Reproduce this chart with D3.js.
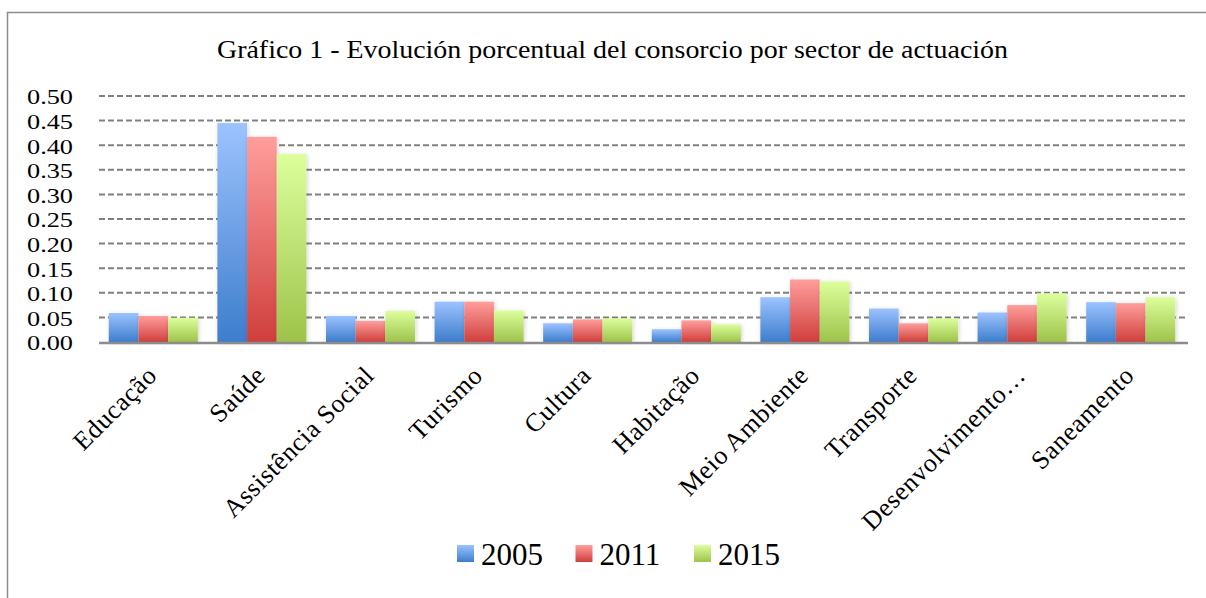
<!DOCTYPE html>
<html>
<head>
<meta charset="utf-8">
<script src="https://cdn.jsdelivr.net/npm/d3@7"></script>
<style>
  body { margin: 0; background: #fff; }
  svg { display: block; }
  text { font-family: "Liberation Serif", serif; fill: #000; }
</style>
</head>
<body>
<div id="chart"></div>
<script>
// values
const categories = ["Educação", "Saúde", "Assistência Social", "Turismo", "Cultura",
    "Habitação", "Meio Ambiente", "Transporte", "Desenvolvimento…", "Saneamento"];
const seriesNames = ["2005", "2011", "2015"];
const values2005 = [0.059, 0.445, 0.053, 0.082, 0.038, 0.026, 0.091, 0.068, 0.060, 0.081];
const values2011 = [0.053, 0.417, 0.043, 0.082, 0.046, 0.044, 0.127, 0.038, 0.075, 0.079];
const values2015 = [0.049, 0.382, 0.063, 0.064, 0.048, 0.036, 0.123, 0.048, 0.099, 0.091];
const yTicks = [0, 0.05, 0.1, 0.15, 0.2, 0.25, 0.3, 0.35, 0.4, 0.45, 0.5];
const title = "Gráfico 1 - Evolución porcentual del consorcio por sector de actuación";

const width = 1206, height = 598;
const seriesValues = [values2005, values2011, values2015];
// gradient top / bottom colours for each series
const topColors = ["#9cc3ff", "#ff9e9c", "#dcff9c"];
const bottomColors = ["#3d7dcc", "#cf3f3c", "#9ec34a"];

const svg = d3.select("#chart").append("svg")
    .attr("width", width)
    .attr("height", height);

const defs = svg.append("defs");
seriesNames.forEach((s, i) => {
    const g = defs.append("linearGradient")
        .attr("id", "grad" + i)
        .attr("x1", "0%").attr("y1", "0%")
        .attr("x2", "0%").attr("y2", "100%");
    g.append("stop").attr("offset", "0%").attr("stop-color", topColors[i]);
    g.append("stop").attr("offset", "100%").attr("stop-color", bottomColors[i]);
});
const shadow = defs.append("filter").attr("id", "shadow")
    .attr("x", "-20%").attr("y", "-10%").attr("width", "140%").attr("height", "120%");
shadow.append("feDropShadow")
    .attr("dx", 1).attr("dy", 1).attr("stdDeviation", 2)
    .attr("flood-color", "#000").attr("flood-opacity", 0.18);

// outer frame (runs off to the right and bottom)
svg.append("path")
    .attr("d", "M7.5,610 L7.5,12.5 L1220,12.5")
    .attr("fill", "none")
    .attr("stroke", "#8c8c8c")
    .attr("stroke-width", 1.5);

svg.append("text")
    .attr("x", 217)
    .attr("y", 58)
    .attr("font-size", 26)
    .attr("textLength", 791)
    .attr("lengthAdjust", "spacingAndGlyphs")
    .text(title);

const x = d3.scaleBand()
    .domain(categories)
    .range([99, 1185])
    .paddingInner(0.18)
    .paddingOuter(0.09);

const xs = d3.scaleBand()
    .domain(seriesNames)
    .range([0, x.bandwidth()]);

const y = d3.scaleLinear()
    .domain([0, 0.5])
    .range([342, 96]);

// dashed gridlines
svg.append("g")
    .selectAll("line")
    .data(yTicks.filter(d => d > 0))
    .join("line")
    .attr("x1", 99).attr("x2", 1185)
    .attr("y1", d => y(d)).attr("y2", d => y(d))
    .attr("stroke", "#808080")
    .attr("stroke-width", 2)
    .attr("stroke-dasharray", "6,3");

// y axis labels
const yAxis = svg.append("g")
    .attr("transform", "translate(73,0)")
    .call(d3.axisLeft(y).tickValues(yTicks).tickFormat(d3.format(".2f")).tickSize(0).tickPadding(0));
yAxis.select(".domain").remove();
yAxis.selectAll("text")
    .attr("font-family", "Liberation Serif, serif")
    .attr("font-size", 22)
    .attr("dy", "0.36em")
    .attr("textLength", 46)
    .attr("lengthAdjust", "spacingAndGlyphs");

// bars
const groups = svg.append("g")
    .selectAll("g")
    .data(categories)
    .join("g")
    .attr("transform", d => `translate(${x(d)},0)`);

groups.selectAll("rect")
    .data((d, ci) => seriesNames.map((s, si) => ({ s, si, v: seriesValues[si][ci] })))
    .join("rect")
    .attr("x", d => xs(d.s))
    .attr("y", d => y(d.v))
    .attr("width", xs.bandwidth())
    .attr("height", d => y(0) - y(d.v))
    .attr("fill", d => `url(#grad${d.si})`)
    .attr("filter", "url(#shadow)");

// baseline
svg.append("line")
    .attr("x1", 99).attr("x2", 1188)
    .attr("y1", y(0) + 1).attr("y2", y(0) + 1)
    .attr("stroke", "#8c8c8c")
    .attr("stroke-width", 2.5);

// rotated category labels
svg.append("g")
    .selectAll("text")
    .data(categories)
    .join("text")
    .attr("transform", d => `translate(${x(d) + x.bandwidth() / 2 + 5},377) rotate(-45)`)
    .attr("text-anchor", "end")
    .attr("font-size", 26)
    .attr("letter-spacing", 0.6)
    .text(d => d);

// legend
const legend = svg.append("g")
    .selectAll("g")
    .data(seriesNames)
    .join("g")
    .attr("transform", (d, i) => `translate(${457 + i * 118.5},545)`);
legend.append("rect")
    .attr("width", 17).attr("height", 17)
    .attr("fill", (d, i) => `url(#grad${i})`);
legend.append("text")
    .attr("x", 24)
    .attr("y", 20)
    .attr("font-size", 31)
    .text(d => d);
</script>
</body>
</html>
